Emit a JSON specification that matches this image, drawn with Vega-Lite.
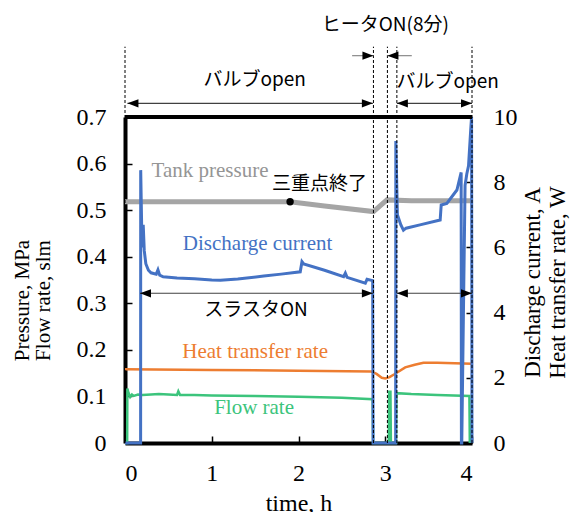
{
  "$schema": "https://vega.github.io/schema/vega-lite/v6.json",
  "width": 347,
  "height": 326,
  "autosize": {"type": "none"},
  "padding": {"left": 125, "top": 117, "right": 105, "bottom": 69},
  "background": "white",
  "datasets": {
    "left": [
      {"s": "tank", "t": 0, "v": 0.518},
      {"s": "tank", "t": 1.9, "v": 0.518},
      {"s": "tank", "t": 2.3, "v": 0.509},
      {"s": "tank", "t": 2.864, "v": 0.497},
      {"s": "tank", "t": 3.02, "v": 0.522},
      {"s": "tank", "t": 3.3, "v": 0.52},
      {"s": "tank", "t": 4, "v": 0.52},
      {"s": "flow", "t": 0, "v": 0},
      {"s": "flow", "t": 0.025, "v": 0},
      {"s": "flow", "t": 0.027, "v": 0.117},
      {"s": "flow", "t": 0.04, "v": 0.108},
      {"s": "flow", "t": 0.06, "v": 0.099},
      {"s": "flow", "t": 0.08, "v": 0.104},
      {"s": "flow", "t": 0.1, "v": 0.101},
      {"s": "flow", "t": 0.15, "v": 0.104},
      {"s": "flow", "t": 0.2, "v": 0.103},
      {"s": "flow", "t": 0.3, "v": 0.104},
      {"s": "flow", "t": 0.39, "v": 0.105},
      {"s": "flow", "t": 0.5, "v": 0.104},
      {"s": "flow", "t": 0.6, "v": 0.103},
      {"s": "flow", "t": 0.615, "v": 0.111},
      {"s": "flow", "t": 0.635, "v": 0.103},
      {"s": "flow", "t": 0.8, "v": 0.103},
      {"s": "flow", "t": 1.0, "v": 0.102},
      {"s": "flow", "t": 1.5, "v": 0.101},
      {"s": "flow", "t": 2.0, "v": 0.0995},
      {"s": "flow", "t": 2.5, "v": 0.097},
      {"s": "flow", "t": 2.855, "v": 0.094},
      {"s": "flow", "t": 2.86, "v": 0},
      {"s": "flow", "t": 3.04, "v": 0},
      {"s": "flow", "t": 3.045, "v": 0.11},
      {"s": "flow", "t": 3.06, "v": 0.11},
      {"s": "flow", "t": 3.065, "v": 0},
      {"s": "flow", "t": 3.125, "v": 0},
      {"s": "flow", "t": 3.13, "v": 0.107},
      {"s": "flow", "t": 3.3, "v": 0.105},
      {"s": "flow", "t": 3.6, "v": 0.103},
      {"s": "flow", "t": 3.97, "v": 0.101},
      {"s": "flow", "t": 3.975, "v": 0}
    ],
    "right": [
      {"s": "heat", "t": 0, "v": 2.26},
      {"s": "heat", "t": 1, "v": 2.24},
      {"s": "heat", "t": 2, "v": 2.22},
      {"s": "heat", "t": 2.84, "v": 2.19},
      {"s": "heat", "t": 2.9, "v": 2.12},
      {"s": "heat", "t": 2.96, "v": 2.0},
      {"s": "heat", "t": 3.0, "v": 1.98},
      {"s": "heat", "t": 3.05, "v": 2.02},
      {"s": "heat", "t": 3.1, "v": 2.1},
      {"s": "heat", "t": 3.23, "v": 2.32},
      {"s": "heat", "t": 3.34, "v": 2.4},
      {"s": "heat", "t": 3.44, "v": 2.46},
      {"s": "heat", "t": 3.6, "v": 2.46},
      {"s": "heat", "t": 4, "v": 2.43},
      {"s": "cur", "t": 0, "v": 0},
      {"s": "cur", "t": 0.18, "v": 0},
      {"s": "cur", "t": 0.181, "v": 8.37},
      {"s": "cur", "t": 0.195, "v": 6.2},
      {"s": "cur", "t": 0.203, "v": 6.0},
      {"s": "cur", "t": 0.21, "v": 6.69},
      {"s": "cur", "t": 0.222, "v": 5.9},
      {"s": "cur", "t": 0.24, "v": 5.5},
      {"s": "cur", "t": 0.27, "v": 5.3},
      {"s": "cur", "t": 0.3, "v": 5.22},
      {"s": "cur", "t": 0.36, "v": 5.18},
      {"s": "cur", "t": 0.38, "v": 5.31},
      {"s": "cur", "t": 0.4, "v": 5.15},
      {"s": "cur", "t": 0.44, "v": 5.1},
      {"s": "cur", "t": 0.6, "v": 5.06},
      {"s": "cur", "t": 0.8, "v": 5.04},
      {"s": "cur", "t": 1.0, "v": 5.0},
      {"s": "cur", "t": 1.1, "v": 4.99},
      {"s": "cur", "t": 1.3, "v": 5.03},
      {"s": "cur", "t": 1.6, "v": 5.12},
      {"s": "cur", "t": 1.8, "v": 5.18},
      {"s": "cur", "t": 2.02, "v": 5.25},
      {"s": "cur", "t": 2.04, "v": 5.56},
      {"s": "cur", "t": 2.06, "v": 5.49},
      {"s": "cur", "t": 2.3, "v": 5.3},
      {"s": "cur", "t": 2.52, "v": 5.1},
      {"s": "cur", "t": 2.54, "v": 5.21},
      {"s": "cur", "t": 2.56, "v": 5.08},
      {"s": "cur", "t": 2.77, "v": 4.9},
      {"s": "cur", "t": 2.79, "v": 5.02},
      {"s": "cur", "t": 2.855, "v": 4.98},
      {"s": "cur", "t": 2.86, "v": 0},
      {"s": "cur", "t": 3.12, "v": 0},
      {"s": "cur", "t": 3.122, "v": 9.26},
      {"s": "cur", "t": 3.14, "v": 7.0},
      {"s": "cur", "t": 3.18, "v": 6.69},
      {"s": "cur", "t": 3.21, "v": 6.53},
      {"s": "cur", "t": 3.24, "v": 6.59},
      {"s": "cur", "t": 3.4, "v": 6.69},
      {"s": "cur", "t": 3.633, "v": 6.84},
      {"s": "cur", "t": 3.645, "v": 7.3},
      {"s": "cur", "t": 3.71, "v": 7.35},
      {"s": "cur", "t": 3.826, "v": 7.76},
      {"s": "cur", "t": 3.875, "v": 8.3},
      {"s": "cur", "t": 3.878, "v": 0},
      {"s": "cur", "t": 3.882, "v": 0},
      {"s": "cur", "t": 3.92, "v": 7.9},
      {"s": "cur", "t": 3.94, "v": 8.25},
      {"s": "cur", "t": 3.96, "v": 8.5},
      {"s": "cur", "t": 3.985, "v": 9.6},
      {"s": "cur", "t": 3.995, "v": 10},
      {"s": "cur", "t": 4.0, "v": 0}
    ],
    "en": [
      {"label": "Tank pressure", "t": 0.98, "v": 0.5705},
      {"label": "Discharge current", "t": 1.528, "v": 0.4144},
      {"label": "Heat transfer rate", "t": 1.5, "v": 0.1819},
      {"label": "Flow rate", "t": 1.488, "v": 0.0616}
    ],
    "ja": [
      {"label": "三重点終了", "t": 2.243, "v": 0.556},
      {"label": "スラスタON", "t": 1.51, "v": 0.2856},
      {"label": "バルブopen", "t": 1.495, "v": 0.7795},
      {"label": "バルブopen", "t": 3.72, "v": 0.776},
      {"label": "ヒータON(8分)", "t": 3.0, "v": 0.8976}
    ],
    "arrows": [
      {"kind": "main", "t": 0.028, "t2": 2.857, "v": 0.7294},
      {"kind": "main", "t": 3.134, "t2": 4.0, "v": 0.7294},
      {"kind": "main", "t": 0.173, "t2": 2.857, "v": 0.3215},
      {"kind": "main", "t": 3.134, "t2": 4.0, "v": 0.3215},
      {"kind": "heater", "t": 2.618, "t2": 2.864, "v": 0.8317},
      {"kind": "heater", "t": 3.025, "t2": 3.306, "v": 0.8317}
    ],
    "heads": [
      {"dir": "l", "t": 0.028, "v": 0.7294},
      {"dir": "r", "t": 2.857, "v": 0.7294},
      {"dir": "l", "t": 3.134, "v": 0.7294},
      {"dir": "r", "t": 4.0, "v": 0.7294},
      {"dir": "l", "t": 0.173, "v": 0.3215},
      {"dir": "r", "t": 2.857, "v": 0.3215},
      {"dir": "l", "t": 3.134, "v": 0.3215},
      {"dir": "r", "t": 4.0, "v": 0.3215},
      {"dir": "r", "t": 2.864, "v": 0.8317},
      {"dir": "l", "t": 3.025, "v": 0.8317}
    ],
    "dashes": [
      {"t": 0, "v": 0, "v2": 0.851},
      {"t": 2.864, "v": 0, "v2": 0.851},
      {"t": 3.025, "v": 0, "v2": 0.851},
      {"t": 3.134, "v": 0, "v2": 0.851},
      {"t": 4.0, "v": 0, "v2": 0.851}
    ],
    "dots": [{"t": 1.903, "v": 0.518}],
    "frame": [{"t": 0, "t2": 4, "v": 0.7}]
  },
  "encoding": {
    "x": {
      "field": "t",
      "type": "quantitative",
      "scale": {"domain": [0, 4], "nice": false},
      "axis": {
        "orient": "bottom",
        "values": [0, 1, 2, 3, 4],
        "format": "d",
        "domainWidth": 4,
        "tickSize": -7,
        "tickWidth": 1.5,
        "labelPadding": 25,
        "title": "time, h",
        "titleFontSize": 24,
        "titleBaseline": "alphabetic",
        "titleY": 67
      }
    }
  },
  "layer": [
    {
      "data": {"name": "left"},
      "layer": [
        {
          "transform": [{"filter": "datum.s === 'tank'"}],
          "mark": {"type": "line", "color": "#A5A5A5", "strokeWidth": 5},
          "encoding": {
            "y": {
              "field": "v",
              "type": "quantitative",
              "scale": {"domain": [0, 0.7], "nice": false},
              "axis": {
                "orient": "left",
                "values": [0, 0.1, 0.2, 0.3, 0.4, 0.5, 0.6, 0.7],
                "format": "~g",
                "domainWidth": 4,
                "tickSize": -7,
                "tickWidth": 1.5,
                "labelPadding": 26,
                "title": ["Pressure, MPa", "Flow rate, slm"],
                "titleFontSize": 21,
                "titleAngle": 270,
                "titleBaseline": "middle",
                "titleAlign": "center",
                "titleLineHeight": 21,
                "titleX": -103,
                "titleY": 183
              }
            }
          }
        },
        {
          "transform": [{"filter": "datum.s === 'flow'"}],
          "mark": {"type": "line", "color": "#3CC47C", "strokeWidth": 2.5},
          "encoding": {"y": {"field": "v", "type": "quantitative"}}
        }
      ]
    },
    {
      "data": {"name": "right"},
      "layer": [
        {
          "transform": [{"filter": "datum.s === 'heat'"}],
          "mark": {"type": "line", "color": "#ED7D31", "strokeWidth": 2.5},
          "encoding": {
            "y": {
              "field": "v",
              "type": "quantitative",
              "scale": {"domain": [0, 10], "nice": false},
              "axis": {
                "orient": "right",
                "values": [0, 1, 2, 3, 4, 5, 6, 7, 8, 9, 10],
                "format": "d",
                "domain": false,
                "tickSize": -6,
                "tickWidth": 1.5,
                "labelPadding": 27,
                "title": ["Discharge current, A", "Heat transfer rate, W"],
                "titleFontSize": 23,
                "titleAngle": 270,
                "titleBaseline": "middle",
                "titleAlign": "center",
                "titleLineHeight": 25,
                "titleX": 60,
                "titleY": 165
              }
            }
          }
        },
        {
          "transform": [{"filter": "datum.s === 'cur'"}],
          "mark": {"type": "line", "color": "#4472C4", "strokeWidth": 3},
          "encoding": {"y": {"field": "v", "type": "quantitative"}}
        }
      ]
    },
    {
      "layer": [
        {
          "data": {"name": "frame"},
          "mark": {"type": "rule", "color": "black", "strokeWidth": 4},
          "encoding": {
            "x2": {"field": "t2"},
            "y": {"field": "v", "type": "quantitative", "scale": {"domain": [0, 0.7], "nice": false}, "axis": null}
          }
        },
        {
          "data": {"name": "dashes"},
          "mark": {"type": "rule", "color": "black", "strokeWidth": 1, "strokeDash": [3, 2]},
          "encoding": {
            "y": {"field": "v", "type": "quantitative"},
            "y2": {"field": "v2"}
          }
        },
        {
          "data": {"name": "arrows"},
          "mark": {"type": "rule", "strokeWidth": 1.2},
          "encoding": {
            "x2": {"field": "t2"},
            "y": {"field": "v", "type": "quantitative"},
            "color": {"field": "kind", "type": "nominal", "scale": {"domain": ["main", "heater"], "range": ["#404040", "#8a8a8a"]}, "legend": null}
          }
        },
        {
          "data": {"name": "heads"},
          "mark": {"type": "point", "filled": true, "color": "black", "size": 121, "opacity": 1, "strokeWidth": 0},
          "encoding": {
            "y": {"field": "v", "type": "quantitative"},
            "shape": {"field": "dir", "type": "nominal", "scale": {"domain": ["l", "r"], "range": ["M0,0L2,-0.75L2,0.75Z", "M0,0L-2,-0.75L-2,0.75Z"]}, "legend": null}
          }
        },
        {
          "data": {"name": "dots"},
          "mark": {"type": "point", "filled": true, "color": "black", "size": 55, "opacity": 1, "shape": "circle"},
          "encoding": {"y": {"field": "v", "type": "quantitative"}}
        },
        {
          "data": {"name": "en"},
          "mark": {"type": "text", "font": "Liberation Serif", "fontSize": 21, "align": "center", "baseline": "alphabetic"},
          "encoding": {
            "y": {"field": "v", "type": "quantitative"},
            "text": {"field": "label"},
            "color": {"field": "label", "type": "nominal", "scale": {"domain": ["Tank pressure", "Discharge current", "Heat transfer rate", "Flow rate"], "range": ["#959595", "#4472C4", "#ED7D31", "#3CC47C"]}, "legend": null}
          }
        },
        {
          "data": {"name": "ja"},
          "mark": {"type": "text", "font": "Noto Sans CJK JP", "fontSize": 19, "align": "center", "baseline": "middle", "color": "black"},
          "encoding": {
            "y": {"field": "v", "type": "quantitative"},
            "text": {"field": "label"}
          }
        }
      ],
      "resolve": {"scale": {"color": "independent", "shape": "independent"}}
    }
  ],
  "resolve": {"scale": {"y": "independent"}},
  "config": {
    "view": {"stroke": null},
    "axis": {
      "grid": false,
      "labelFont": "Liberation Serif",
      "labelFontSize": 24,
      "labelColor": "black",
      "titleFont": "Liberation Serif",
      "titleFontWeight": "normal",
      "titleColor": "black",
      "domainColor": "black",
      "tickColor": "black"
    }
  }
}
